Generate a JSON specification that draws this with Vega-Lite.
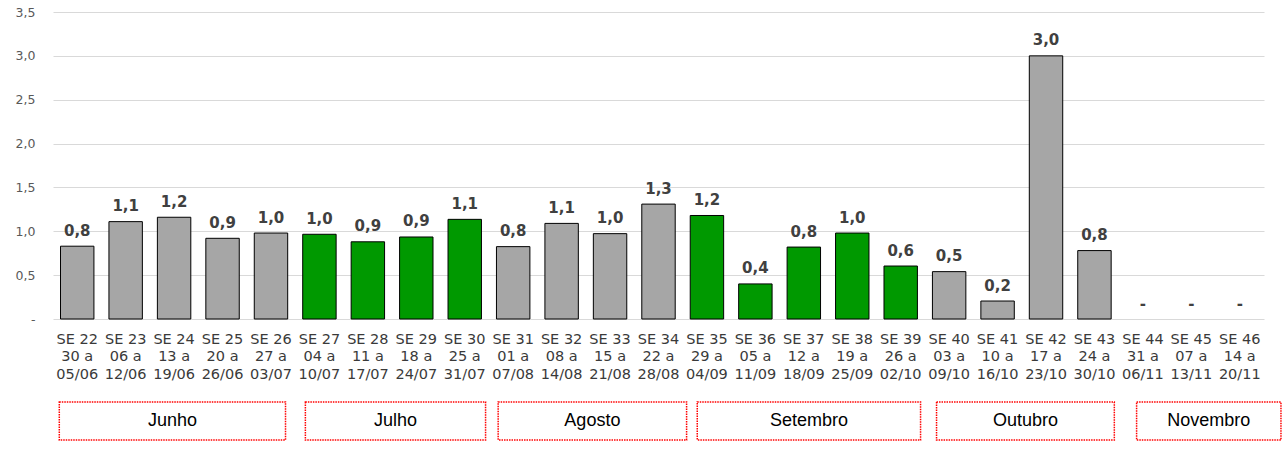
{
  "$schema": "https://vega.github.io/schema/vega-lite/v6.json",
  "padding": {"left": 5, "top": 6, "right": 5, "bottom": 5},
  "background": "white",
  "config": {
    "view": {"stroke": null},
    "font": "DejaVu Sans",
    "concat": {"spacing": 20}
  },
  "datasets": {
    "semanas": [
      {"semana": "SE 22|30 a|05/06", "valor": 0.83, "grupo": "cinza"},
      {"semana": "SE 23|06 a|12/06", "valor": 1.11, "grupo": "cinza"},
      {"semana": "SE 24|13 a|19/06", "valor": 1.16, "grupo": "cinza"},
      {"semana": "SE 25|20 a|26/06", "valor": 0.92, "grupo": "cinza"},
      {"semana": "SE 26|27 a|03/07", "valor": 0.98, "grupo": "cinza"},
      {"semana": "SE 27|04 a|10/07", "valor": 0.966, "grupo": "verde"},
      {"semana": "SE 28|11 a|17/07", "valor": 0.88, "grupo": "verde"},
      {"semana": "SE 29|18 a|24/07", "valor": 0.935, "grupo": "verde"},
      {"semana": "SE 30|25 a|31/07", "valor": 1.136, "grupo": "verde"},
      {"semana": "SE 31|01 a|07/08", "valor": 0.825, "grupo": "cinza"},
      {"semana": "SE 32|08 a|14/08", "valor": 1.09, "grupo": "cinza"},
      {"semana": "SE 33|15 a|21/08", "valor": 0.973, "grupo": "cinza"},
      {"semana": "SE 34|22 a|28/08", "valor": 1.31, "grupo": "cinza"},
      {"semana": "SE 35|29 a|04/09", "valor": 1.18, "grupo": "verde"},
      {"semana": "SE 36|05 a|11/09", "valor": 0.40, "grupo": "verde"},
      {"semana": "SE 37|12 a|18/09", "valor": 0.82, "grupo": "verde"},
      {"semana": "SE 38|19 a|25/09", "valor": 0.98, "grupo": "verde"},
      {"semana": "SE 39|26 a|02/10", "valor": 0.604, "grupo": "verde"},
      {"semana": "SE 40|03 a|09/10", "valor": 0.54, "grupo": "cinza"},
      {"semana": "SE 41|10 a|16/10", "valor": 0.205, "grupo": "cinza"},
      {"semana": "SE 42|17 a|23/10", "valor": 3.0, "grupo": "cinza"},
      {"semana": "SE 43|24 a|30/10", "valor": 0.78, "grupo": "cinza"},
      {"semana": "SE 44|31 a|06/11", "valor": null, "grupo": "cinza"},
      {"semana": "SE 45|07 a|13/11", "valor": null, "grupo": "cinza"},
      {"semana": "SE 46|14 a|20/11", "valor": null, "grupo": "cinza"}
    ],
    "meses": [
      {"mes": "Junho", "inicio": 0.13, "fim": 4.8},
      {"mes": "Julho", "inicio": 5.21, "fim": 8.93},
      {"mes": "Agosto", "inicio": 9.19, "fim": 13.08},
      {"mes": "Setembro", "inicio": 13.3, "fim": 17.91},
      {"mes": "Outubro", "inicio": 18.24, "fim": 21.91},
      {"mes": "Novembro", "inicio": 22.37, "fim": 25.35}
    ]
  },
  "vconcat": [
    {
      "width": 1211,
      "height": 307,
      "data": {"name": "semanas"},
      "transform": [
        {"calculate": "datum.valor == null ? 0 : datum.valor", "as": "ypos"},
        {"calculate": "datum.valor == null ? '-' : replace(format(datum.valor, '.1f'), '.', ',')", "as": "rotulo"}
      ],
      "encoding": {
        "x": {
          "field": "semana",
          "type": "nominal",
          "sort": null,
          "scale": {"paddingInner": 0.31, "paddingOuter": 0.155},
          "axis": {
            "title": null,
            "labelAngle": 0,
            "labelExpr": "split(datum.label, '|')",
            "labelFont": "DejaVu Sans",
            "labelFontSize": 14.5,
            "labelColor": "#3a3a3a",
            "labelLineHeight": 17.5,
            "labelBaseline": "top",
            "labelPadding": 13,
            "ticks": false,
            "domain": false,
            "labelOverlap": false
          }
        }
      },
      "layer": [
        {
          "mark": {"type": "bar", "stroke": "#000000", "strokeWidth": 1},
          "encoding": {
            "y": {
              "field": "valor",
              "type": "quantitative",
              "scale": {"domain": [0, 3.5], "nice": false},
              "axis": {
                "title": null,
                "values": [0, 0.5, 1, 1.5, 2, 2.5, 3, 3.5],
                "labelExpr": "datum.value == 0 ? '-\u00a0\u00a0' : replace(format(datum.value, '.1f'), '.', ',')",
                "labelFontSize": 12.5,
                "labelColor": "#595959",
                "labelPadding": 18,
                "ticks": false,
                "domain": false,
                "gridColor": "#d9d9d9",
                "gridWidth": 1,
                "minExtent": 48
              }
            },
            "color": {
              "field": "grupo",
              "type": "nominal",
              "scale": {"domain": ["cinza", "verde"], "range": ["#a6a6a6", "#009900"]},
              "legend": null
            }
          }
        },
        {
          "mark": {"type": "text", "baseline": "alphabetic", "dy": -10.5, "fontSize": 15, "fontWeight": "bold", "color": "#404040"},
          "encoding": {
            "y": {"field": "ypos", "type": "quantitative"},
            "text": {"field": "rotulo", "type": "nominal"}
          }
        }
      ]
    },
    {
      "width": 1211,
      "height": 38,
      "data": {"name": "meses"},
      "transform": [
        {"calculate": "(datum.inicio + datum.fim) / 2", "as": "centro"}
      ],
      "layer": [
        {
          "mark": {"type": "rect", "fill": "white", "stroke": "#ff0000", "strokeWidth": 1.5, "strokeDash": [1.5, 1]},
          "encoding": {
            "x": {"field": "inicio", "type": "quantitative", "scale": {"domain": [0, 25], "nice": false, "zero": false}, "axis": null},
            "x2": {"field": "fim"}
          }
        },
        {
          "mark": {"type": "text", "font": "Liberation Sans", "fontSize": 18, "color": "#000000", "baseline": "middle", "align": "center"},
          "encoding": {
            "x": {"field": "centro", "type": "quantitative"},
            "text": {"field": "mes", "type": "nominal"}
          }
        }
      ]
    }
  ]
}
